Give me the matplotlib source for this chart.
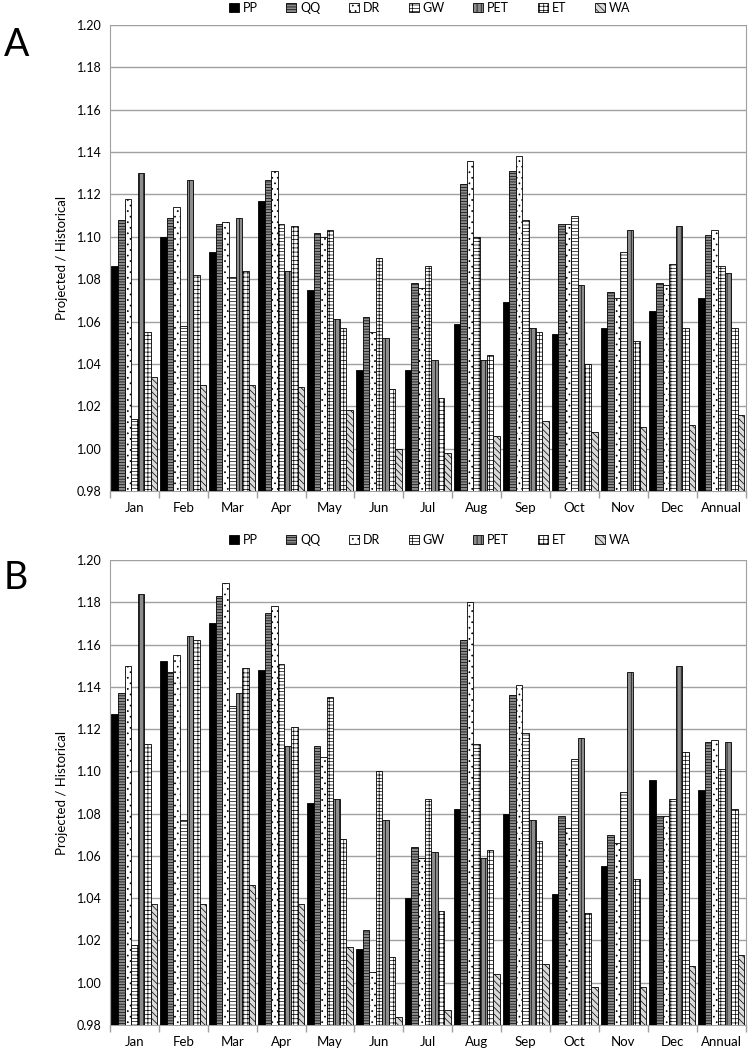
import matplotlib.pyplot as plt
import numpy as np

# categories and series
months = ["Jan", "Feb", "Mar", "Apr", "May", "Jun", "Jul", "Aug", "Sep", "Oct", "Nov", "Dec", "Annual"]
series = ["PP", "QQ", "DR", "GW", "PET", "ET", "WA"]

# Panel A values (projected / historical)
a_pp = [1.086, 1.100, 1.093, 1.117, 1.075, 1.037, 1.037, 1.059, 1.069, 1.054, 1.057, 1.065, 1.071]
a_qq = [1.108, 1.109, 1.106, 1.127, 1.102, 1.062, 1.078, 1.125, 1.131, 1.106, 1.074, 1.078, 1.101]
a_dr = [1.118, 1.114, 1.107, 1.131, 1.100, 1.055, 1.076, 1.136, 1.138, 1.106, 1.071, 1.077, 1.103]
a_gw = [1.014, 1.058, 1.081, 1.106, 1.103, 1.090, 1.086, 1.100, 1.108, 1.110, 1.093, 1.087, 1.086]
a_pet = [1.130, 1.127, 1.109, 1.084, 1.061, 1.052, 1.042, 1.042, 1.057, 1.077, 1.103, 1.105, 1.083]
a_et = [1.055, 1.082, 1.084, 1.105, 1.057, 1.028, 1.024, 1.044, 1.055, 1.040, 1.051, 1.057, 1.057]
a_wa = [1.034, 1.030, 1.030, 1.029, 1.018, 1.000, 0.998, 1.006, 1.013, 1.008, 1.010, 1.011, 1.016]

# Panel B values
b_pp = [1.127, 1.152, 1.170, 1.148, 1.085, 1.016, 1.040, 1.082, 1.080, 1.042, 1.055, 1.096, 1.091]
b_qq = [1.137, 1.147, 1.183, 1.175, 1.112, 1.025, 1.064, 1.162, 1.136, 1.079, 1.070, 1.079, 1.114]
b_dr = [1.150, 1.155, 1.189, 1.178, 1.107, 1.005, 1.059, 1.180, 1.141, 1.073, 1.066, 1.079, 1.115]
b_gw = [1.018, 1.077, 1.131, 1.151, 1.135, 1.100, 1.087, 1.113, 1.118, 1.106, 1.090, 1.087, 1.101]
b_pet = [1.184, 1.164, 1.137, 1.112, 1.087, 1.077, 1.062, 1.059, 1.077, 1.116, 1.147, 1.150, 1.114]
b_et = [1.113, 1.162, 1.149, 1.121, 1.068, 1.012, 1.034, 1.063, 1.067, 1.033, 1.049, 1.109, 1.082]
b_wa = [1.037, 1.037, 1.046, 1.037, 1.017, 0.984, 0.987, 1.004, 1.009, 0.998, 0.998, 1.008, 1.013]

panel_a = [a_pp, a_qq, a_dr, a_gw, a_pet, a_et, a_wa]
panel_b = [b_pp, b_qq, b_dr, b_gw, b_pet, b_et, b_wa]

# Excel-like fill styles
faces = ["black", "#8c8c8c", "white", "white", "#8c8c8c", "white", "#d9d9d9"]
hatches = [None, "------", "...", "-----||", "||||", "++++", "\\\\\\\\\\"]

plt.rcParams["font.family"] = ["Lato", "DejaVu Sans"]
plt.rcParams["hatch.linewidth"] = 0.5

fig = plt.figure(figsize=(7.48, 10.52), dpi=100)
ax_a = fig.add_axes([0.147, 0.5333, 0.850, 0.443])
ax_b = fig.add_axes([0.147, 0.0257, 0.850, 0.442])

x = np.arange(len(months))
n = len(series)
bw = 0.94 / n


def draw_panel(ax, data):
    bars = []
    for i, vals in enumerate(data):
        offs = (i - (n - 1) / 2) * bw
        b = ax.bar(x + offs, np.array(vals) - 0.98, bw, bottom=0.98,
                   color=faces[i], edgecolor="black", linewidth=0.6,
                   hatch=hatches[i], label=series[i], zorder=3)
        bars.append(b)
    ax.set_ylim(0.98, 1.20)
    ax.set_xlim(-0.5, len(months) - 0.5)
    ax.set_yticks(np.arange(0.98, 1.2001, 0.02))
    ax.set_yticklabels([f"{v:.2f}" for v in np.arange(0.98, 1.2001, 0.02)], fontsize=9)
    ax.yaxis.grid(True, color="#a0a0a0", linewidth=1.0, zorder=0)
    ax.set_axisbelow(True)
    # boundaries as major ticks, month names as minor labels
    ax.set_xticks(np.arange(-0.5, len(months), 1.0))
    ax.set_xticklabels([])
    ax.set_xticks(x, minor=True)
    ax.set_xticklabels(months, minor=True, fontsize=9.5)
    ax.tick_params(axis="x", which="minor", length=0, pad=8)
    ax.tick_params(axis="x", which="major", length=5, color="#a0a0a0", width=1)
    ax.tick_params(axis="y", length=0, pad=6)
    for s in ["left", "bottom", "right"]:
        ax.spines[s].set_color("#a0a0a0")
    ax.spines["top"].set_visible(False)
    ax.set_ylabel("Projected / Historical", fontsize=9.5, labelpad=6)
    return bars


bars_a = draw_panel(ax_a, panel_a)
bars_b = draw_panel(ax_b, panel_b)

leg_kw = dict(loc="center", ncol=7, frameon=False, fontsize=9,
              handlelength=0.8, handleheight=0.8, handletextpad=0.3,
              columnspacing=2.3)
fig.legend(bars_a, series, bbox_to_anchor=(0.574, 1 - 8 / 1052), **leg_kw)
fig.legend(bars_b, series, bbox_to_anchor=(0.574, 1 - 540 / 1052), **leg_kw)

fig.text(0.005, 1 - 45 / 1052, "A", fontsize=27, va="center", ha="left")
fig.text(0.005, 1 - 578 / 1052, "B", fontsize=27, va="center", ha="left")

fig.savefig("out.png", dpi=100)
